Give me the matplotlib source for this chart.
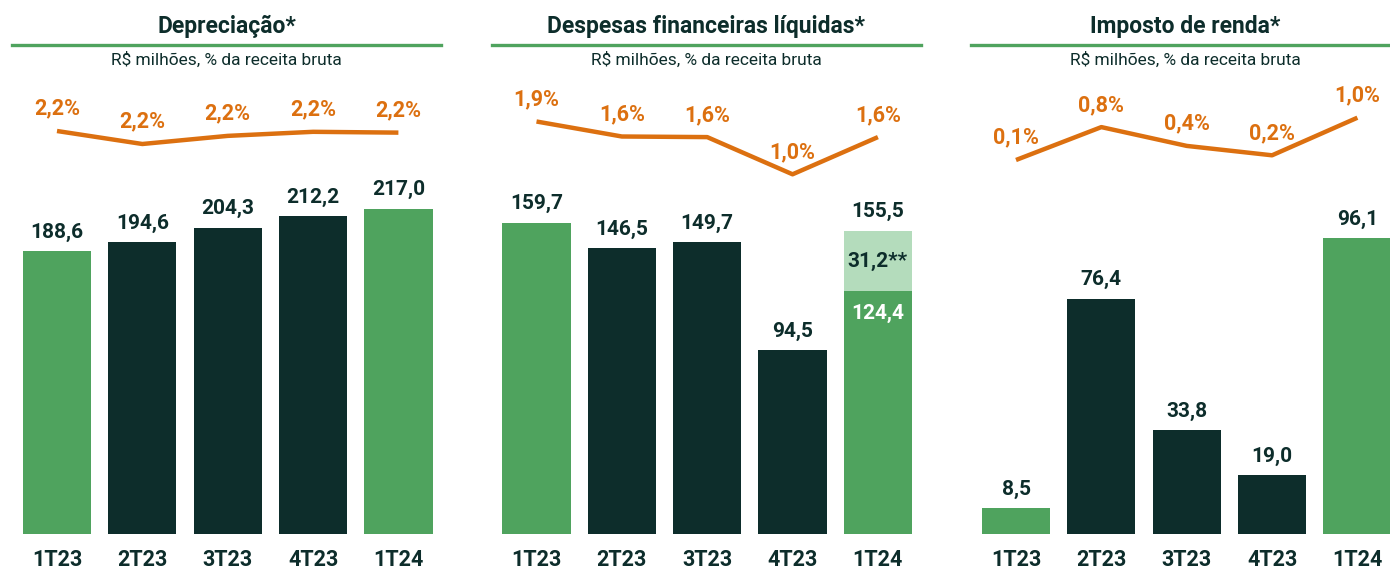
import matplotlib
matplotlib.use("Agg")
import matplotlib.pyplot as plt
from matplotlib.lines import Line2D

plt.rcParams['font.family'] = ['Roboto', 'DejaVu Sans']

# ---------------- data ----------------
quarters = ["1T23", "2T23", "3T23", "4T23", "1T24"]
titles = ["Depreciação*", "Despesas financeiras líquidas*", "Imposto de renda*"]
subtitle = "R$ milhões, % da receita bruta"

dep_values = [188.6, 194.6, 204.3, 212.2, 217.0]
dep_totals = [188.6, 194.6, 204.3, 212.2, 217.0]
dep_pct = [2.24, 2.16, 2.21, 2.235, 2.23]

fin_values = [159.7, 146.5, 149.7, 94.5, 124.4]
fin_extra = [0, 0, 0, 0, 31.2]
fin_totals = [159.7, 146.5, 149.7, 94.5, 155.5]
fin_pct = [1.88, 1.63, 1.62, 1.0, 1.62]

ir_values = [8.5, 76.4, 33.8, 19.0, 96.1]
ir_totals = [8.5, 76.4, 33.8, 19.0, 96.1]
ir_pct = [0.1, 0.8, 0.4, 0.2, 1.0]

panels = [
    (dep_values, [0] * 5, dep_totals, dep_pct),
    (fin_values, fin_extra, fin_totals, fin_pct),
    (ir_values, [0] * 5, ir_totals, ir_pct),
]

# ---------------- style ----------------
W, H = 1390, 571
GREEN = "#4fa35e"
DARK = "#0d2d2b"
ORANGE = "#dc7010"
LIGHT = "#b4dcbc"
bar_colors = [GREEN, DARK, DARK, DARK, GREEN]

# pixel geometry
base_px = 534          # bar baseline (from top)
top_px = 80            # axes top (from top)
axh_px = base_px - top_px
unit_px = 85.35        # x distance between bars
first_center = 57.0
panel_shift = 479.5
# per panel: bar px per unit, line (ref value, ref px y, px per pct)
bar_scale = [1.5, 1.95, 3.08]
line_ref = [(2.24, 131, 162.5), (1.88, 121.5, 60.0), (0.1, 160, 47.0)]

fig = plt.figure(figsize=(W / 100, H / 100), dpi=100)


def fx(px):
    return px / W


def fy(py):
    return 1 - py / H


def fmt(v):
    return f"{v:.1f}".replace(".", ",")


for p, (vals, extra, totals, pct) in enumerate(panels):
    shift = panel_shift * p
    left_px = 12 + shift
    right_px = 441 + shift
    ax = fig.add_axes([fx(left_px), fy(base_px), fx(right_px - left_px), axh_px / H])
    xlim = ((left_px - (first_center + shift)) / unit_px,
            (right_px - (first_center + shift)) / unit_px)
    ax.set_xlim(*xlim)
    ax.set_ylim(0, axh_px / bar_scale[p])
    ax.axis("off")

    x = list(range(len(quarters)))
    ax.bar(x, vals, width=0.8, color=bar_colors, zorder=2)
    if any(extra):
        ax.bar(x, extra, bottom=vals, width=0.8,
               color=[LIGHT if e else "none" for e in extra], zorder=2)

    for i, (v, e, t) in enumerate(zip(vals, extra, totals)):
        ax.annotate(fmt(t), (i, v + e), xytext=(0, 13.5), textcoords="offset points",
                    ha="center", va="center", fontsize=15, fontweight="bold", color=DARK)
        if e:
            ax.annotate(fmt(e) + "**", (i, v + e / 2), ha="center", va="center",
                        fontsize=15, fontweight="bold", color=DARK)
            ax.annotate(fmt(v), (i, v), xytext=(0, -16), textcoords="offset points",
                        ha="center", va="center", fontsize=15, fontweight="bold",
                        color="white")
        ax.annotate(quarters[i], (i, 0), xytext=(0, -19), textcoords="offset points",
                    ha="center", va="center", fontsize=15.5, fontweight="bold",
                    color=DARK, annotation_clip=False)

    # line axes
    lax = fig.add_axes(ax.get_position(), sharex=ax)
    lax.set_xlim(*xlim)
    ref_v, ref_y, k = line_ref[p]
    ymin = ref_v - (base_px - ref_y) / k
    lax.set_ylim(ymin, ymin + axh_px / k)
    lax.axis("off")
    lax.patch.set_alpha(0)
    lax.plot(x, pct, color=ORANGE, lw=3.2, solid_capstyle="butt", zorder=3)
    for i, v in enumerate(pct):
        lax.annotate(fmt(v) + "%", (i, v), xytext=(0, 16), textcoords="offset points",
                     ha="center", va="center", fontsize=15.5, fontweight="bold",
                     color=ORANGE)

    # title, rule and subtitle
    cx = (left_px + right_px) / 2
    fig.text(fx(cx), fy(26), titles[p], ha="center", va="center", fontsize=16.5,
             fontweight="bold", color=DARK)
    fig.add_artist(Line2D([fx(left_px), fx(min(right_px, W))], [fy(44.5), fy(44.5)],
                          color=GREEN, lw=2.4, transform=fig.transFigure))
    fig.text(fx(cx), fy(60), subtitle, ha="center", va="center", fontsize=12.5,
             color=DARK)

fig.savefig("out.png", dpi=100, facecolor="white")
